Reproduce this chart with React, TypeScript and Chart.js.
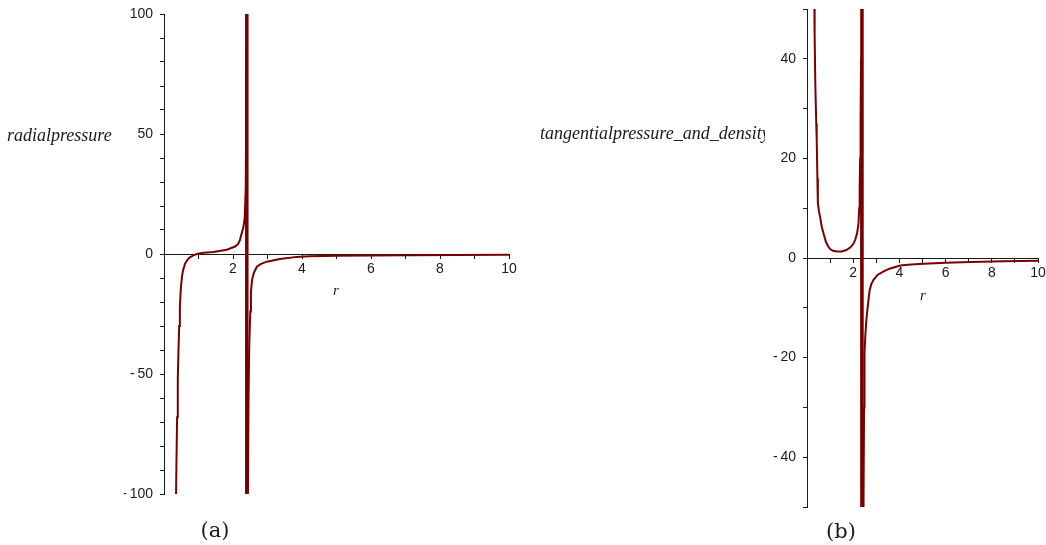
import React, { useEffect, useRef } from "react";
import { Chart, registerables } from "chart.js";

Chart.register(...registerables);

// ---- (a) radial pressure against r ----
const radialLeftR = [0.345, 0.36, 0.38, 0.4, 0.42, 0.44, 0.46, 0.49, 0.52, 0.55, 0.61, 0.68, 0.75, 0.85, 0.95, 1.15, 1.43, 1.82, 2.06, 2.15, 2.2, 2.25, 2.3, 2.34, 2.37];
const radialLeftP = [-105, -88, -68, -52, -40, -30, -22, -14, -9.5, -7, -4, -2.4, -1.4, -0.6, 0, 0.5, 0.8, 1.8, 3.1, 4.2, 5.8, 8.5, 11, 15, 28];
const radialRightR = [2.43, 2.45, 2.47, 2.5, 2.52, 2.55, 2.6, 2.69, 2.8, 2.98, 3.36, 3.85, 4.2, 5, 6, 7.2, 8.5, 10];
const radialRightP = [-105, -60, -39, -24, -16, -11, -8, -5.3, -4.2, -3.2, -2.1, -1.2, -0.9, -0.75, -0.6, -0.5, -0.42, -0.35];
const radialPole = 2.4;
const radialRange = [-100, 100];
const radialLabelStep = 50;

// ---- (b) tangential pressure and density against r ----
const tangLeftR = [0.31, 0.33, 0.36, 0.4, 0.42, 0.45, 0.47, 0.52, 0.57, 0.64, 0.71, 0.82, 0.92, 1.0, 1.15, 1.35, 1.5, 1.7, 1.87, 2.0, 2.09, 2.17, 2.23, 2.26, 2.28, 2.3, 2.32, 2.34, 2.35];
const tangLeftP = [55, 45, 35, 27, 24, 16, 11, 9.3, 8.2, 6.2, 5, 3.2, 2.3, 1.8, 1.4, 1.3, 1.3, 1.6, 2.1, 2.8, 3.7, 5, 7, 10, 14, 20, 28, 40, 55];
const tangRightR = [2.44, 2.47, 2.49, 2.52, 2.56, 2.6, 2.66, 2.71, 2.78, 2.88, 3.05, 3.32, 3.6, 4.04, 4.5, 5.06, 6, 7.1, 8.5, 10];
const tangRightP = [-55, -30, -19, -16, -13, -11, -8.5, -6.5, -5.3, -4.4, -3.4, -2.7, -2.1, -1.5, -1.3, -1.15, -0.95, -0.8, -0.65, -0.55];
const tangPole = 2.38;
const tangRange = [-50, 50];
const tangLabelStep = 20;

// ---- shared axis settings ----
const rRange = [0, 10];
const rLabelled = [2, 4, 6, 8, 10];
const rTitle = "r";
const radialTitle = "radialpressure";
const tangTitle = "tangentialpressure_and_density";
const captions = ["(a)", "(b)"];

const CURVE = "#780000";
const INK = "#1a1a1a";
const TICK_FONT = { family: "'Liberation Sans', Arial, sans-serif", size: 14 };

type Pt = { x: number; y: number };
type TextItem = { text: string; x: number; y: number; font: string; align?: CanvasTextAlign; clipRight?: number };
type Box = { left: number; top: number; width: number; height: number };

const pairs = (xs: number[], ys: number[]): Pt[] => xs.map((x, i) => ({ x, y: ys[i] }));

const fmt = (v: number) => (v < 0 ? "-\u2009" + String(-v) : String(v));

// draws the free-standing labels of a panel; items are given in page
// coordinates and shifted by the canvas offset
const panelText = {
  id: "panelText",
  afterDraw(chart: any, _args: any, opts: any) {
    const ctx: CanvasRenderingContext2D = chart.ctx;
    const dx = opts.offsetX || 0;
    const dy = opts.offsetY || 0;
    for (const t of (opts.items || []) as TextItem[]) {
      ctx.save();
      if (t.clipRight !== undefined) {
        ctx.beginPath();
        ctx.rect(0, 0, t.clipRight - dx, chart.height);
        ctx.clip();
      }
      ctx.font = t.font;
      ctx.fillStyle = INK;
      ctx.textAlign = t.align || "left";
      ctx.textBaseline = "alphabetic";
      ctx.fillText(t.text, t.x - dx, t.y - dy);
      ctx.restore();
    }
  },
};

type PanelSpec = {
  leftR: number[];
  leftP: number[];
  rightR: number[];
  rightP: number[];
  pole: number;
  range: number[];
  labelStep: number;
  canvas: Box;
  padding: { left: number; right: number; top: number; bottom: number };
  texts: TextItem[];
};

function buildConfig(p: PanelSpec): any {
  const [yMin, yMax] = p.range;
  const curve = [
    ...pairs(p.leftR, p.leftP),
    { x: p.pole, y: yMax * 1.1 },
    { x: p.pole, y: yMin * 1.1 },
    ...pairs(p.rightR, p.rightP),
  ];
  const pole = [
    { x: p.pole, y: yMax },
    { x: p.pole, y: yMin },
  ];
  return {
    type: "scatter",
    data: {
      datasets: [
        { label: "curve", data: curve, showLine: true, borderColor: CURVE, borderWidth: 2, pointRadius: 0, tension: 0 },
        { label: "pole", data: pole, showLine: true, borderColor: CURVE, borderWidth: 3.5, pointRadius: 0 },
      ],
    },
    options: {
      animation: false,
      responsive: false,
      maintainAspectRatio: false,
      events: [],
      layout: { padding: p.padding },
      plugins: {
        legend: { display: false },
        tooltip: { enabled: false },
        panelText: { items: p.texts, offsetX: p.canvas.left, offsetY: p.canvas.top },
      },
      scales: {
        x: {
          type: "linear",
          min: rRange[0],
          max: rRange[1],
          position: { y: 0 },
          ticks: {
            stepSize: 1,
            autoSkip: false,
            maxRotation: 0,
            padding: 3,
            color: INK,
            font: TICK_FONT,
            callback: (v: number) => (rLabelled.includes(v) ? String(v) : ""),
          },
          grid: { drawOnChartArea: false, tickLength: 4, color: INK },
          border: { color: INK, width: 1 },
        },
        y: {
          type: "linear",
          min: yMin,
          max: yMax,
          position: "left",
          afterFit: (s: any) => {
            s.width = 40;
          },
          ticks: {
            stepSize: 10,
            autoSkip: false,
            padding: 7,
            color: INK,
            font: TICK_FONT,
            callback: (v: number) => (v % p.labelStep === 0 ? fmt(v) : ""),
          },
          grid: { drawOnChartArea: false, tickLength: 4, color: INK },
          border: { color: INK, width: 1 },
        },
      },
    },
    plugins: [panelText],
  };
}

const TITLE_FONT = "italic 18px 'Liberation Serif', 'Times New Roman', serif";
const R_FONT = "italic 15px 'Liberation Serif', 'Times New Roman', serif";
const CAPTION_FONT = "21px 'DejaVu Serif', serif";

const panelA: PanelSpec = {
  leftR: radialLeftR,
  leftP: radialLeftP,
  rightR: radialRightR,
  rightP: radialRightP,
  pole: radialPole,
  range: radialRange,
  labelStep: radialLabelStep,
  canvas: { left: 0, top: -6, width: 520, height: 560 },
  padding: { left: 124, right: 11, top: 20, bottom: 60 },
  texts: [
    { text: radialTitle, x: 7, y: 141, font: TITLE_FONT },
    { text: rTitle, x: 336, y: 295, font: R_FONT, align: "center" },
    { text: captions[0], x: 215, y: 537, font: CAPTION_FONT, align: "center" },
  ],
};

const panelB: PanelSpec = {
  leftR: tangLeftR,
  leftP: tangLeftP,
  rightR: tangRightR,
  rightP: tangRightP,
  pole: tangPole,
  range: tangRange,
  labelStep: tangLabelStep,
  canvas: { left: 520, top: -11, width: 540, height: 560 },
  padding: { left: 247, right: 22, top: 20, bottom: 42 },
  texts: [
    { text: tangTitle, x: 540, y: 139, font: TITLE_FONT, clipRight: 765 },
    { text: rTitle, x: 923, y: 300, font: R_FONT, align: "center" },
    { text: captions[1], x: 841, y: 538, font: CAPTION_FONT, align: "center" },
  ],
};

function Panel({ spec }: { spec: PanelSpec }) {
  const ref = useRef<HTMLCanvasElement | null>(null);
  useEffect(() => {
    if (!ref.current) return;
    const chart = new Chart(ref.current, buildConfig(spec));
    return () => chart.destroy();
  }, [spec]);
  const { left, top, width, height } = spec.canvas;
  return (
    <canvas
      ref={ref}
      width={width}
      height={height}
      style={{ position: "absolute", left, top, width, height }}
    />
  );
}

export default function App() {
  return (
    <div style={{ position: "absolute", left: 0, top: 0, width: 1046, height: 545, background: "#fff", overflow: "hidden" }}>
      <Panel spec={panelA} />
      <Panel spec={panelB} />
    </div>
  );
}
